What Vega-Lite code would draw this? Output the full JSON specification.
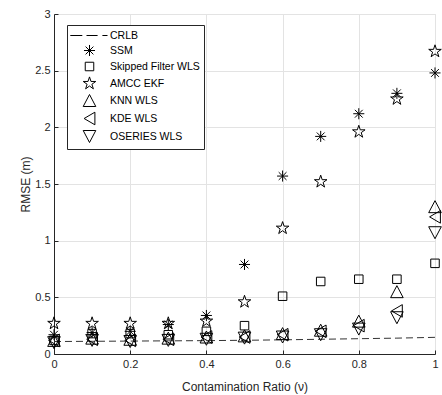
{
  "$schema": "https://vega.github.io/schema/vega-lite/v6.json",
  "width": 381,
  "height": 340,
  "autosize": {"type": "none"},
  "padding": {"left": 54, "top": 14, "right": 7, "bottom": 41},
  "background": "white",
  "config": {
    "view": {"stroke": "#e3e3e3"},
    "font": "Liberation Sans",
    "axis": {
      "domainColor": "#262626",
      "tickColor": "#262626",
      "tickSize": -4,
      "gridColor": "#e3e3e3",
      "labelColor": "#262626",
      "titleColor": "#262626",
      "labelFont": "Liberation Sans",
      "titleFont": "Liberation Sans",
      "labelFontSize": 11,
      "titleFontSize": 12,
      "titleFontWeight": "normal"
    }
  },
  "datasets": {
    "pts": [
      {"series": "SSM", "x": 0, "y": 0.17},
      {"series": "SSM", "x": 0.1, "y": 0.19},
      {"series": "SSM", "x": 0.2, "y": 0.2},
      {"series": "SSM", "x": 0.3, "y": 0.26},
      {"series": "SSM", "x": 0.4, "y": 0.34},
      {"series": "SSM", "x": 0.5, "y": 0.79},
      {"series": "SSM", "x": 0.6, "y": 1.57},
      {"series": "SSM", "x": 0.7, "y": 1.92},
      {"series": "SSM", "x": 0.8, "y": 2.12},
      {"series": "SSM", "x": 0.9, "y": 2.3},
      {"series": "SSM", "x": 1, "y": 2.48},
      {"series": "Skipped Filter WLS", "x": 0, "y": 0.12},
      {"series": "Skipped Filter WLS", "x": 0.1, "y": 0.18},
      {"series": "Skipped Filter WLS", "x": 0.2, "y": 0.18},
      {"series": "Skipped Filter WLS", "x": 0.3, "y": 0.17},
      {"series": "Skipped Filter WLS", "x": 0.4, "y": 0.2},
      {"series": "Skipped Filter WLS", "x": 0.5, "y": 0.25},
      {"series": "Skipped Filter WLS", "x": 0.6, "y": 0.51},
      {"series": "Skipped Filter WLS", "x": 0.7, "y": 0.64},
      {"series": "Skipped Filter WLS", "x": 0.8, "y": 0.66},
      {"series": "Skipped Filter WLS", "x": 0.9, "y": 0.66},
      {"series": "Skipped Filter WLS", "x": 1, "y": 0.8},
      {"series": "AMCC EKF", "x": 0, "y": 0.27},
      {"series": "AMCC EKF", "x": 0.1, "y": 0.27},
      {"series": "AMCC EKF", "x": 0.2, "y": 0.27},
      {"series": "AMCC EKF", "x": 0.3, "y": 0.27},
      {"series": "AMCC EKF", "x": 0.4, "y": 0.29},
      {"series": "AMCC EKF", "x": 0.5, "y": 0.46},
      {"series": "AMCC EKF", "x": 0.6, "y": 1.11},
      {"series": "AMCC EKF", "x": 0.7, "y": 1.52},
      {"series": "AMCC EKF", "x": 0.8, "y": 1.96},
      {"series": "AMCC EKF", "x": 0.9, "y": 2.25},
      {"series": "AMCC EKF", "x": 1, "y": 2.67},
      {"series": "KNN WLS", "x": 0, "y": 0.12},
      {"series": "KNN WLS", "x": 0.1, "y": 0.14},
      {"series": "KNN WLS", "x": 0.2, "y": 0.13},
      {"series": "KNN WLS", "x": 0.3, "y": 0.14},
      {"series": "KNN WLS", "x": 0.4, "y": 0.15},
      {"series": "KNN WLS", "x": 0.5, "y": 0.16},
      {"series": "KNN WLS", "x": 0.6, "y": 0.18},
      {"series": "KNN WLS", "x": 0.7, "y": 0.21},
      {"series": "KNN WLS", "x": 0.8, "y": 0.29},
      {"series": "KNN WLS", "x": 0.9, "y": 0.55},
      {"series": "KNN WLS", "x": 1, "y": 1.3},
      {"series": "KDE WLS", "x": 0, "y": 0.12},
      {"series": "KDE WLS", "x": 0.1, "y": 0.13},
      {"series": "KDE WLS", "x": 0.2, "y": 0.12},
      {"series": "KDE WLS", "x": 0.3, "y": 0.13},
      {"series": "KDE WLS", "x": 0.4, "y": 0.15},
      {"series": "KDE WLS", "x": 0.5, "y": 0.15},
      {"series": "KDE WLS", "x": 0.6, "y": 0.17},
      {"series": "KDE WLS", "x": 0.7, "y": 0.2},
      {"series": "KDE WLS", "x": 0.8, "y": 0.25},
      {"series": "KDE WLS", "x": 0.9, "y": 0.38},
      {"series": "KDE WLS", "x": 1, "y": 1.21},
      {"series": "OSERIES WLS", "x": 0, "y": 0.1},
      {"series": "OSERIES WLS", "x": 0.1, "y": 0.12},
      {"series": "OSERIES WLS", "x": 0.2, "y": 0.11},
      {"series": "OSERIES WLS", "x": 0.3, "y": 0.12},
      {"series": "OSERIES WLS", "x": 0.4, "y": 0.13},
      {"series": "OSERIES WLS", "x": 0.5, "y": 0.14},
      {"series": "OSERIES WLS", "x": 0.6, "y": 0.15},
      {"series": "OSERIES WLS", "x": 0.7, "y": 0.17},
      {"series": "OSERIES WLS", "x": 0.8, "y": 0.22},
      {"series": "OSERIES WLS", "x": 0.9, "y": 0.32},
      {"series": "OSERIES WLS", "x": 1, "y": 1.07}
    ],
    "crlb": [
      {"x": 0, "y": 0.11},
      {"x": 0.1, "y": 0.112},
      {"x": 0.2, "y": 0.114},
      {"x": 0.3, "y": 0.116},
      {"x": 0.4, "y": 0.118},
      {"x": 0.5, "y": 0.121},
      {"x": 0.6, "y": 0.125},
      {"x": 0.7, "y": 0.13},
      {"x": 0.8, "y": 0.135},
      {"x": 0.9, "y": 0.14},
      {"x": 1, "y": 0.147}
    ]
  },
  "layer": [
    {
      "data": {"name": "crlb"},
      "mark": {"type": "line", "color": "#333333", "strokeWidth": 1, "strokeDash": [7, 4]},
      "encoding": {
        "x": {"field": "x", "type": "quantitative"},
        "y": {"field": "y", "type": "quantitative"}
      }
    },
    {
      "data": {"name": "pts"},
      "mark": {"type": "point", "filled": false, "stroke": "black", "strokeWidth": 1, "size": 144, "opacity": 1},
      "encoding": {
        "x": {
          "field": "x", "type": "quantitative",
          "scale": {"domain": [0, 1], "nice": false, "zero": false},
          "axis": {
            "title": "Contamination Ratio (ν)",
            "values": [0, 0.1, 0.2, 0.3, 0.4, 0.5, 0.6, 0.7, 0.8, 0.9, 1],
            "format": "~g",
            "labelPadding": 8,
            "titlePadding": 12,
            "labelFlush": false
          }
        },
        "y": {
          "field": "y", "type": "quantitative",
          "scale": {"domain": [0, 3], "nice": false},
          "axis": {
            "title": "RMSE (m)",
            "values": [0, 0.5, 1, 1.5, 2, 2.5, 3],
            "format": "~g",
            "labelPadding": 8,
            "titlePadding": 2,
            "labelFlush": false
          }
        },
        "shape": {
          "field": "series", "type": "nominal",
          "scale": {
            "domain": ["CRLB", "SSM", "Skipped Filter WLS", "AMCC EKF", "KNN WLS", "KDE WLS", "OSERIES WLS"],
            "range": [
              "M-3.2,0L-1.2,0M-0.5,0L1.35,0M2.15,0L3,0",
              "M-0.92,0L0.92,0M0,-0.92L0,0.92M-0.65,-0.65L0.65,0.65M-0.65,0.65L0.65,-0.65",
              "M-0.71,-0.71L0.71,-0.71L0.71,0.71L-0.71,0.71Z",
              "M0,-1.1L0.247,-0.34L1.046,-0.34L0.4,0.13L0.647,0.89L0,0.42L-0.647,0.89L-0.4,0.13L-1.046,-0.34L-0.247,-0.34Z",
              "M0,-1L1.05,1L-1.05,1Z",
              "M-0.9,0L0.9,-1.05L0.9,1.05Z",
              "M0,1L1.05,-1L-1.05,-1Z"
            ]
          },
          "legend": {
            "title": null,
            "orient": "none",
            "legendX": 13,
            "legendY": 11,
            "fillColor": "white",
            "strokeColor": "#262626",
            "padding": 4,
            "symbolSize": 144,
            "symbolType": "circle",
            "symbolFillColor": "transparent",
            "symbolStrokeColor": "black",
            "symbolStrokeWidth": 1,
            "symbolOffset": 12,
            "labelOffset": 14,
            "labelFont": "Liberation Sans",
            "labelFontSize": 10.5,
            "labelColor": "black",
            "rowPadding": 1,
            "labelLimit": 200
          }
        }
      }
    }
  ]
}
